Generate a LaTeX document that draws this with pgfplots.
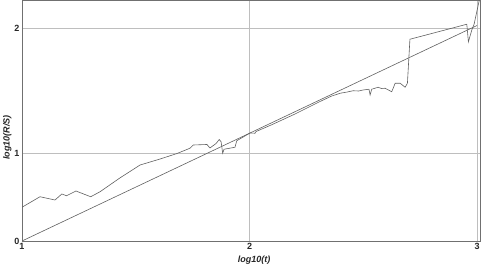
\documentclass[border=0pt]{standalone}
\usepackage{pgfplots}
\pgfplotsset{compat=1.18}
\usepackage{fontspec}
\setmainfont{Liberation Sans}
\definecolor{curve}{HTML}{606060}
\definecolor{gridc}{HTML}{BEBEBE}
\definecolor{frame}{HTML}{707070}
\begin{document}
\begin{tikzpicture}[x=1pt,y=1pt]
\useasboundingbox (0,0) rectangle (482,267);
\begin{axis}[
  at={(22pt,26pt)}, anchor=south west,
  scale only axis, width=458pt, height=241pt,
  xmin=1, xmax=3.013, ymin=0.296, ymax=2.224,
  xtick={1,2,3}, ytick={0.296,1,2}, yticklabels={0,1,2},
  major tick length=0pt,
  grid=major,
  major grid style={gridc, line width=0.5pt},
  axis line style={frame, line width=0.6pt},
  /pgf/number format/assume math mode=true,
  tick label style={font=\bfseries\fontsize{9}{10}\selectfont, text=black!85},
  xticklabel style={yshift=1pt},
  yticklabel style={xshift=1pt},
  xlabel={log10(t)}, ylabel={log10(R/S)},
  label style={font=\bfseries\itshape\fontsize{9}{10}\selectfont, text=black!85},
  xlabel style={at={(axis description cs:0.507,0)}, anchor=north, yshift=-11pt},
  ylabel style={at={(axis description cs:0,0.43)}, anchor=south, yshift=7pt},
  clip=true,
]
\addplot[curve, line width=0.6pt] coordinates {
(1.000,0.296) (3.000,2.020)
};
\addplot[curve, line width=0.6pt] coordinates {
(1.000,0.566) (1.079,0.650) (1.145,0.624) (1.175,0.672) (1.196,0.658)
(1.237,0.696) (1.302,0.650) (1.343,0.690) (1.430,0.800) (1.519,0.904)
(1.607,0.952) (1.680,0.995) (1.738,1.038) (1.753,1.064) (1.813,1.068)
(1.826,1.040) (1.853,1.076) (1.867,1.108) (1.875,1.090) (1.882,0.998)
(1.888,1.030) (1.936,1.046) (1.944,1.098) (2.002,1.160) (2.024,1.158)
(2.029,1.172) (2.100,1.228) (2.200,1.312) (2.310,1.412) (2.360,1.455)
(2.398,1.478) (2.430,1.488) (2.455,1.498) (2.480,1.496) (2.499,1.504)
(2.525,1.510) (2.530,1.464) (2.537,1.510) (2.565,1.526) (2.580,1.516)
(2.596,1.518) (2.625,1.490) (2.640,1.558) (2.662,1.558) (2.684,1.526)
(2.694,1.558) (2.705,1.910) (2.955,2.030) (2.962,1.890) (2.977,1.984)
(2.987,2.030) (3.010,2.224)
};
\end{axis}
\end{tikzpicture}
\end{document}
